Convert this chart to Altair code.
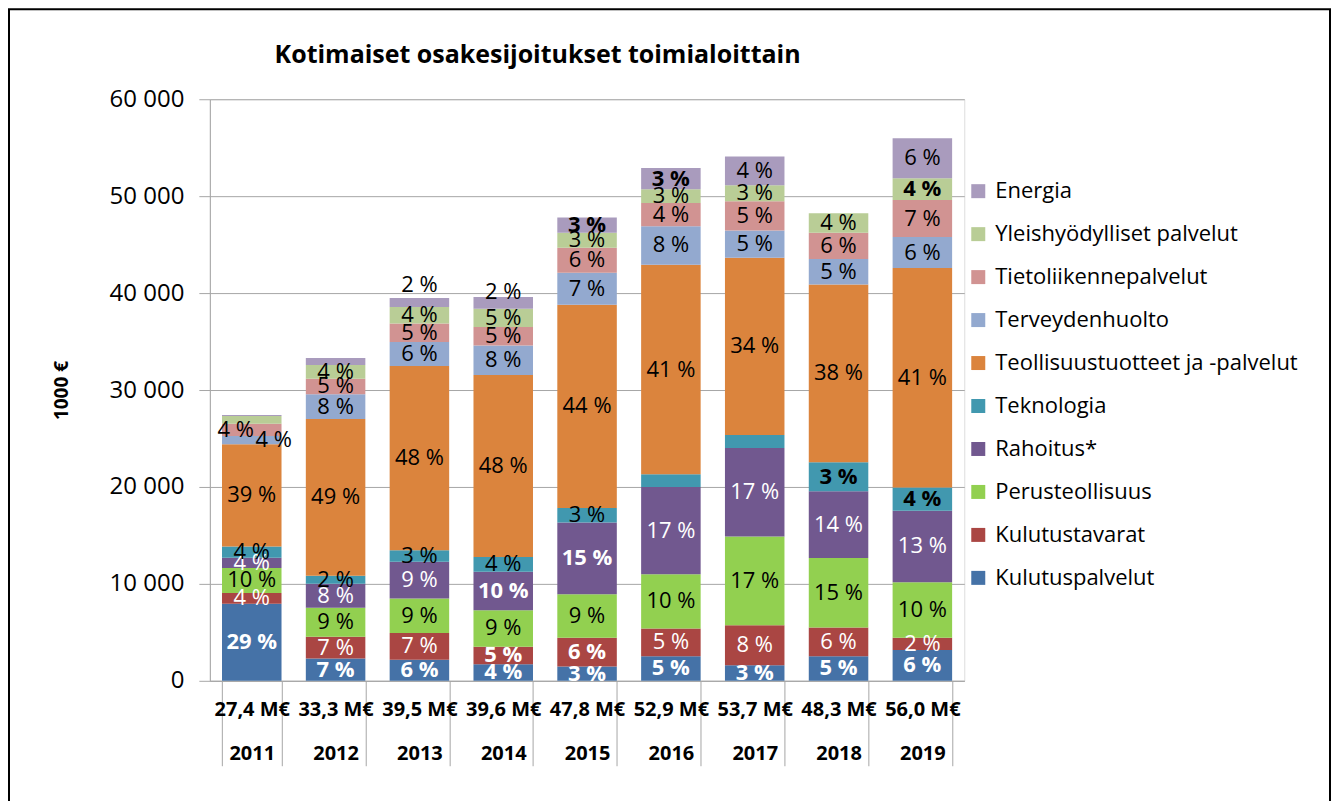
import altair as alt
import pandas as pd

title_text = "Kotimaiset osakesijoitukset toimialoittain"
years = ["2011", "2012", "2013", "2014", "2015", "2016", "2017", "2018", "2019"]
totals = ["27,4 M€", "33,3 M€", "39,5 M€", "39,6 M€", "47,8 M€", "52,9 M€", "53,7 M€", "48,3 M€", "56,0 M€"]

series = [
    "Kulutuspalvelut",
    "Kulutustavarat",
    "Perusteollisuus",
    "Rahoitus*",
    "Teknologia",
    "Teollisuustuotteet ja -palvelut",
    "Terveydenhuolto",
    "Tietoliikennepalvelut",
    "Yleishyödylliset palvelut",
    "Energia",
]
colors = ["#4572A7", "#AA4643", "#92D050", "#71588F", "#4198AF",
          "#DB843D", "#93A9CF", "#D19392", "#B9CD96", "#A99BBD"]

# values, 1000 €
kulutuspalvelut = [7950, 2300, 2170, 1720, 1480, 2540, 1610, 2540, 3170]
kulutustavarat = [1100, 2240, 2750, 1790, 2950, 2850, 4130, 2960, 1260]
perusteollisuus = [2600, 2990, 3570, 3780, 4500, 5610, 9140, 7180, 5750]
rahoitus = [1050, 2470, 3780, 3950, 7390, 9000, 9140, 6880, 7370]
teknologia = [1150, 830, 1200, 1540, 1510, 1300, 1340, 2990, 2390]
teollisuus = [10550, 16180, 19000, 18770, 20970, 21620, 18280, 18330, 22640]
terveydenhuolto = [860, 2550, 2480, 3050, 3300, 3980, 2820, 2650, 3200]
tietoliikenne = [1270, 1610, 1920, 1900, 2570, 2400, 3020, 2690, 3820]
yleishyodylliset = [790, 1410, 1690, 1880, 1550, 1420, 1650, 2030, 2240]
energia = [100, 720, 940, 1220, 1580, 2180, 2960, 0, 4130]

# percentage labels shown in the segments (None = no label)
pct_kulutuspalvelut = [29, 7, 6, 4, 3, 5, 3, 5, 6]
pct_kulutustavarat = [4, 7, 7, 5, 6, 5, 8, 6, 2]
pct_perusteollisuus = [10, 9, 9, 9, 9, 10, 17, 15, 10]
pct_rahoitus = [4, 8, 9, 10, 15, 17, 17, 14, 13]
pct_teknologia = [4, 2, 3, 4, 3, None, None, 3, 4]
pct_teollisuus = [39, 49, 48, 48, 44, 41, 34, 38, 41]
pct_terveydenhuolto = [4, 8, 6, 8, 7, 8, 5, 5, 6]
pct_tietoliikenne = [4, 5, 5, 5, 6, 4, 5, 6, 7]
pct_yleishyodylliset = [None, 4, 4, 5, 3, 3, 3, 4, 4]
pct_energia = [None, None, 2, 2, 3, 3, 4, None, 6]

values = [kulutuspalvelut, kulutustavarat, perusteollisuus, rahoitus, teknologia,
          teollisuus, terveydenhuolto, tietoliikenne, yleishyodylliset, energia]
pcts = [pct_kulutuspalvelut, pct_kulutustavarat, pct_perusteollisuus, pct_rahoitus,
        pct_teknologia, pct_teollisuus, pct_terveydenhuolto, pct_tietoliikenne,
        pct_yleishyodylliset, pct_energia]

cats = [f"{t}|{y}" for t, y in zip(totals, years)]
rows = []
for si, s in enumerate(series):
    for yi, y in enumerate(years):
        p = pcts[si][yi]
        rows.append({
            "cat": cats[yi], "year": y, "series": s, "idx": si,
            "value": values[si][yi],
            "label": "" if p is None else f"{p} %",
            "key": f"{y}/{s}",
        })
df = pd.DataFrame(rows)

FONT = "Open Sans"
W, H = 755, 582

xenc = alt.X(
    "cat:N", sort=cats, title=None,
    scale=alt.Scale(paddingInner=0.29, paddingOuter=0.145),
    axis=alt.Axis(
        labelExpr="datum.label ? split(datum.label, '|') : ''", labelAngle=0,
        labelFontSize=20, labelFontWeight="bold", labelFont=FONT, labelColor="black",
        labelLineHeight=44, labelBaseline="top", labelPadding=-66,
        tickBand="extent", tickSize=85, tickColor="#A6A6A6", tickWidth=1,
        domainColor="#A6A6A6", grid=False,
    ),
)
yscale = alt.Scale(domain=[0, 60000])
yaxis = alt.Axis(
    values=[0, 10000, 20000, 30000, 40000, 50000, 60000],
    labelExpr="replace(format(datum.value, ','), ',', ' ')",
    labelFontSize=24, labelFont=FONT, labelColor="black", labelPadding=15,
    tickSize=11, tickColor="#A6A6A6", domainColor="#A6A6A6",
    gridColor="#A6A6A6", gridWidth=1,
    title="1000 €", titleFont=FONT, titleFontSize=19, titleFontWeight="bold",
    titleColor="black", titlePadding=38,
)

base = alt.Chart(df)

bars = base.mark_bar().encode(
    x=xenc,
    y=alt.Y("value:Q", stack="zero", scale=yscale, axis=yaxis),
    color=alt.Color(
        "series:N",
        scale=alt.Scale(domain=series[::-1], range=colors[::-1]),
        legend=alt.Legend(
            title=None, orient="none", legendX=758, legendY=81,
            symbolType="square", symbolSize=196, symbolStrokeWidth=0,
            labelFont=FONT, labelFontSize=22, labelColor="black",
            labelOffset=6, rowPadding=21, labelLimit=400,
        ),
    ),
    order=alt.Order("idx:Q", sort="ascending"),
)

stacked = base.transform_stack(
    stack="value", groupby=["cat"], sort=[alt.SortField("idx", order="ascending")],
    as_=["y0", "y1"],
).transform_calculate(mid="(datum.y0 + datum.y1) / 2")

white_series = "indexof(['Kulutuspalvelut','Kulutustavarat','Rahoitus*'], datum.series) >= 0"
bold_keys = ["2014/Kulutustavarat", "2014/Rahoitus*", "2015/Kulutustavarat", "2015/Rahoitus*",
             "2018/Teknologia", "2019/Teknologia", "2019/Yleishyödylliset palvelut",
             "2015/Energia", "2016/Energia"]
special = {
    "2011/Terveydenhuolto": dict(dx=22, dy=0),
    "2011/Tietoliikennepalvelut": dict(dx=-16, dy=0),
    "2013/Energia": dict(dx=0, dy=-18),
    "2014/Energia": dict(dx=0, dy=-11),
}
bold_expr = f"(datum.series == 'Kulutuspalvelut' || indexof({bold_keys!r}, datum.key) >= 0)"
special_expr = f"(indexof({list(special.keys())!r}, datum.key) >= 0)"

text_color = alt.condition(white_series, alt.value("white"), alt.value("black"))

def text_layer(filter_expr, weight, dx=0, dy=0):
    return stacked.transform_filter(filter_expr).mark_text(
        font=FONT, fontSize=22, fontWeight=weight, dx=dx, dy=dy,
        align="center", baseline="middle",
    ).encode(
        x=xenc,
        y=alt.Y("mid:Q", scale=yscale, axis=yaxis),
        text="label:N",
        color=text_color,
    )

layers = [bars]
layers.append(text_layer(f"datum.label != '' && !{special_expr} && !{bold_expr}", "normal"))
layers.append(text_layer(f"datum.label != '' && !{special_expr} && {bold_expr}", "bold"))
for k, off in special.items():
    layers.append(text_layer(f"datum.key == '{k}'", "normal", off["dx"], off["dy"]))

deco = alt.Chart(pd.DataFrame({"t": [title_text]}))
frame = deco.mark_rect(fillOpacity=0, stroke="black", strokeWidth=2).encode(
    x=alt.value(-201), x2=alt.value(1121), y=alt.value(-90), y2=alt.value(720)
)
title = deco.mark_text(
    font=FONT, fontSize=25, fontWeight="bold", color="black",
    align="center", baseline="middle",
).encode(text="t:N", x=alt.value(328), y=alt.value(-44))
layers += [frame, title]

chart = alt.layer(*layers).properties(
    width=W, height=H, padding=0,
).configure_view(stroke=None).configure(background="white")

chart.save("out.html", embed_options={"renderer": "svg", "actions": False})
